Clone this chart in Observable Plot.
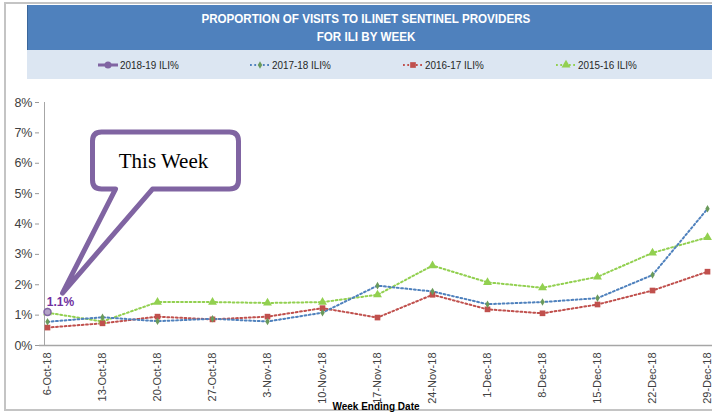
<!DOCTYPE html>
<html>
<head>
<meta charset="utf-8">
<script src="https://cdn.jsdelivr.net/npm/d3@7"></script>
<script src="https://cdn.jsdelivr.net/npm/@observablehq/plot@0.6"></script>
<style>
  html, body { margin: 0; padding: 0; background: #fff; }
  body { width: 712px; height: 413px; overflow: hidden; position: relative; font-family: "Liberation Sans", Arial, sans-serif; }
  #frame { position: absolute; left: 4px; top: 2px; width: 760px; height: 405px; border: 2px solid #c4c4c4; }
  #title { position: absolute; left: 27px; top: 5px; width: 720px; height: 45px; background: #4F81BD; border-left: 1px solid #3b669a; }
  #title div { position: absolute; left: 0; width: 676px; text-align: center; color: #fff; font-weight: bold; font-size: 12.5px; }
  #title span { display: inline-block; transform: scaleX(0.93); }
  #legend { position: absolute; left: 27px; top: 50px; width: 720px; height: 29px; background: #DCE6F2; }
  .item { position: absolute; top: 8px; height: 14px; display: flex; align-items: center; font-size: 11px; color: #262626; }
  .item span { display: inline-block; transform: scaleX(0.9); transform-origin: left center; }
  #chart { position: absolute; left: 0; top: 80px; }
</style>
</head>
<body>
<div id="frame"></div>
<div id="title">
  <div style="top:7px"><span>PROPORTION OF VISITS TO ILINET SENTINEL PROVIDERS</span></div>
  <div style="top:25px"><span>FOR ILI BY WEEK</span></div>
</div>
<div id="legend"></div>
<div id="chart"></div>
<script>
// ---- data ----
const weeks = ["6-Oct-18","13-Oct-18","20-Oct-18","27-Oct-18","3-Nov-18","10-Nov-18","17-Nov-18","24-Nov-18","1-Dec-18","8-Dec-18","15-Dec-18","22-Dec-18","29-Dec-18"];
const seriesNames = ["2018-19 ILI%","2017-18 ILI%","2016-17 ILI%","2015-16 ILI%"];
const ili2018_19 = [1.1];
const ili2017_18 = [0.78,0.93,0.80,0.88,0.79,1.08,1.97,1.78,1.36,1.43,1.56,2.32,4.5];
const ili2016_17 = [0.59,0.73,0.95,0.86,0.95,1.23,0.92,1.67,1.19,1.06,1.35,1.81,2.43];
const ili2015_16 = [1.08,0.79,1.43,1.43,1.40,1.43,1.67,2.63,2.08,1.90,2.26,3.05,3.56];
const yTicks = [0,1,2,3,4,5,6,7,8];
const xLabel = "Week Ending Date";
const calloutText = "This Week";

// ---- styles ----
const colors = {"2018-19 ILI%":"#8064A2","2017-18 ILI%":"#4F81BD","2016-17 ILI%":"#C0504D","2015-16 ILI%":"#92D050"};
const markerColors = {"2018-19 ILI%":"#b3a2c7","2017-18 ILI%":"#6a9a5a","2016-17 ILI%":"#C0504D","2015-16 ILI%":"#92D050"};
const symbols = {"2018-19 ILI%":"circle","2017-18 ILI%":"diamond","2016-17 ILI%":"square","2015-16 ILI%":"triangle"};
const radii = {"2018-19 ILI%":3.5,"2017-18 ILI%":2.3,"2016-17 ILI%":3.2,"2015-16 ILI%":3.3};

const toRows = (name, vals) => vals.map((v, i) => ({series: name, week: weeks[i], value: v}));
const cur = toRows(seriesNames[0], ili2018_19);
const s1 = toRows(seriesNames[1], ili2017_18);
const s2 = toRows(seriesNames[2], ili2016_17);
const s3 = toRows(seriesNames[3], ili2015_16);

// callout shape drawn relative to the current-week point
const calloutSymbol = {
  draw(ctx) {
    const L = 45, R = 191, T = -180, B = -123, r = 9;
    ctx.moveTo(L + r, T);
    ctx.lineTo(R - r, T);
    ctx.quadraticCurveTo(R, T, R, T + r);
    ctx.lineTo(R, B - r);
    ctx.quadraticCurveTo(R, B, R - r, B);
    ctx.lineTo(105, B);
    ctx.lineTo(15, -19);
    ctx.lineTo(68, B);
    ctx.lineTo(L + r, B);
    ctx.quadraticCurveTo(L, B, L, B - r);
    ctx.lineTo(L, T + r);
    ctx.quadraticCurveTo(L, T, L + r, T);
    ctx.closePath();
  }
};

const dash = "1.8 2.5";
const lineMarks = [s3, s2, s1].map(d => Plot.line(d, {x: "week", y: "value", stroke: colors[d[0].series], strokeWidth: 2, strokeDasharray: dash}));
const dotMarks = [s3, s2, s1].map(d => Plot.dot(d, {x: "week", y: "value", symbol: symbols[d[0].series], r: radii[d[0].series], fill: markerColors[d[0].series], stroke: "none"}));

const chart = Plot.plot({
  width: 712, height: 333,
  marginLeft: 39, marginRight: 0, marginTop: 22, marginBottom: 68,
  style: {background: "transparent", overflow: "visible", fontFamily: "Liberation Sans, Arial, sans-serif", color: "#404040"},
  x: {type: "point", domain: weeks, range: [42, 712], padding: 0},
  y: {domain: [0, 8]},
  marks: [
    Plot.axisY({ticks: yTicks, tickFormat: d => d + "%", tickSize: 4, tickPadding: 3, fontSize: 12.5, label: null, stroke: "#999"}),
    Plot.axisX({tickRotate: -90, tickSize: 0, tickPadding: 7, fontSize: 11, label: null}),
    Plot.ruleX([weeks[0]], {dx: -3, y1: 0, y2: 8, stroke: "#a6a6a6", strokeWidth: 1}),
    Plot.ruleY([0], {stroke: "#a6a6a6", strokeWidth: 1.5}),
    ...lineMarks,
    ...dotMarks,
    Plot.dot(cur, {x: "week", y: "value", r: radii[cur[0].series], fill: markerColors[cur[0].series], stroke: colors[cur[0].series], strokeWidth: 1.5}),
    Plot.text(cur, {x: "week", y: "value", text: d => d.value + "%", dx: 13, dy: -10, fill: "#7030A0", fontWeight: "bold", fontSize: 12}),
    Plot.dot(cur, {x: "week", y: "value", symbol: calloutSymbol, r: 1, fill: "white", stroke: "#8064A2", strokeWidth: 5, strokeLinejoin: "round"}),
    Plot.text(cur, {x: "week", y: "value", text: () => calloutText, dx: 116, dy: -151, fontFamily: "Liberation Serif, Times New Roman, serif", fontSize: 21, fill: "#000"}),
    Plot.text([xLabel], {frameAnchor: "bottom", lineAnchor: "middle", dy: 61, fontWeight: "bold", fontSize: 10, fill: "#000"})
  ]
});
document.getElementById("chart").appendChild(chart);

// ---- legend ----
const legendPos = [97, 249, 402, 555];
const legend = document.getElementById("legend");
seriesNames.forEach((name, i) => {
  const item = document.createElement("div");
  item.className = "item";
  item.style.left = (legendPos[i] - 27) + "px";
  const solid = i === 0;
  const sym = d3.symbol(d3[{circle: "symbolCircle", diamond: "symbolDiamond", square: "symbolSquare", triangle: "symbolTriangle"}[symbols[name]]], Math.PI * radii[name] ** 2)();
  item.innerHTML = `<svg width="22" height="14" style="margin-right:1px">
    <line x1="1" x2="21" y1="7" y2="7" stroke="${colors[name]}" stroke-width="${solid ? 3 : 2}" ${solid ? "" : `stroke-dasharray="${dash}"`}/>
    <path d="${sym}" transform="translate(11,7)" fill="${solid ? colors[name] : markerColors[name]}"/>
  </svg><span>${name}</span>`;
  legend.appendChild(item);
});
</script>
</body>
</html>
